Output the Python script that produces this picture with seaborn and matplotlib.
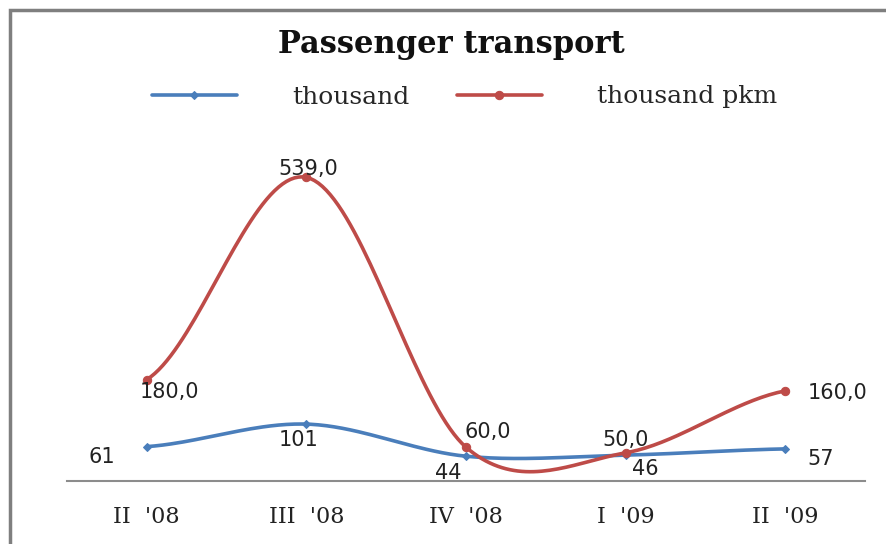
#!/usr/bin/env python3
import numpy as np
import pandas as pd
import seaborn as sns
from matplotlib import pyplot as plt
from matplotlib.patches import Rectangle

quarters = ["II  '08", "III  '08", "IV  '08", "I  '09", "II  '09"]
thousand = [61, 101, 44, 46, 57]
thousand_pkm = [180.0, 539.0, 60.0, 50.0, 160.0]

BLUE = "#4a7ebb"
RED = "#be4b48"
STEPS = 40


def smooth(values, steps=STEPS):
    # Excel-style smoothed line (Catmull-Rom through the points)
    y = np.asarray(values, dtype=float)
    n = len(y)
    xs, ys = [], []
    for i in range(n - 1):
        p0 = y[max(i - 1, 0)]
        p1, p2 = y[i], y[i + 1]
        p3 = y[min(i + 2, n - 1)]
        m1 = (p2 - p0) / 2 if i > 0 else (p2 - p1) / 2
        m2 = (p3 - p1) / 2 if i + 2 < n else (p2 - p1) / 2
        t = np.linspace(0, 1, steps + 1)
        if i < n - 2:
            t = t[:-1]
        h00 = 2 * t**3 - 3 * t**2 + 1
        h10 = t**3 - 2 * t**2 + t
        h01 = -2 * t**3 + 3 * t**2
        h11 = t**3 - t**2
        xs.extend(i + t)
        ys.extend(h00 * p1 + h10 * m1 + h01 * p2 + h11 * m2)
    return pd.DataFrame({"x": xs, "y": ys})


def main():
    sns.set_style("white")
    plt.rcParams["font.family"] = ["DejaVu Serif"]

    fig = plt.figure(figsize=(8.86, 5.44), dpi=100)
    ax = fig.add_axes([67 / 886, 1 - 481 / 544, (865 - 67) / 886, (481 - 143) / 544])

    series = [
        ("thousand", thousand, BLUE, "D", 4.5, "{:d}",
         [(-45, -10), (-8, -16), (-18, -17), (20, -14), (35, -10)]),
        ("thousand pkm", thousand_pkm, RED, "o", 6, "{:.1f}",
         [(23, -12), (2, 8), (22, 15), (0, 13), (52, -2)]),
    ]
    idx = [k * STEPS for k in range(len(quarters))]
    for name, vals, color, marker, ms, fmt, offsets in series:
        df = smooth(vals)
        sns.lineplot(data=df, x="x", y="y", ax=ax, color=color, lw=2.6,
                     marker=marker, markersize=ms, markevery=idx,
                     markeredgecolor=color, label=name, sort=False)
        for i, v in enumerate(vals):
            ax.annotate(fmt.format(v).replace(".", ","), (i, v),
                        xytext=offsets[i], textcoords="offset pixels",
                        ha="center", va="center", fontsize=15,
                        family="DejaVu Sans", color="#222222")

    ax.set_xlim(-0.5, len(quarters) - 0.5)
    ax.set_ylim(0, 600)
    ax.set_xticks(range(len(quarters)))
    ax.set_xticklabels(quarters, fontsize=16)
    ax.tick_params(axis="x", length=0, pad=18, colors="#222222")
    ax.set_yticks([])
    ax.set_xlabel("")
    ax.set_ylabel("")
    for side in ["top", "right", "left"]:
        ax.spines[side].set_visible(False)
    ax.spines["bottom"].set_color("#8c8c8c")
    ax.spines["bottom"].set_linewidth(1.5)
    ax.patch.set_alpha(0)

    handles, labels = ax.get_legend_handles_labels()
    ax.legend_.remove()
    fig.legend(handles, labels, loc="center", bbox_to_anchor=(0.524, 1 - 97 / 544),
               ncol=2, frameon=False, fontsize=18, handlelength=3.4,
               handletextpad=2.2, columnspacing=1.9)

    fig.text(0.51, 1 - 45 / 544, "Passenger transport", ha="center", va="center",
             fontsize=22, fontweight="bold", color="#111111")

    fig.patches.append(Rectangle((10 / 886, -0.1), 1.2, 1 - 10 / 544 + 0.1,
                                 transform=fig.transFigure, fill=False,
                                 edgecolor="#7f7f7f", lw=2.5))

    fig.savefig("out.png", dpi=100)
    plt.close(fig)


if __name__ == "__main__":
    main()
